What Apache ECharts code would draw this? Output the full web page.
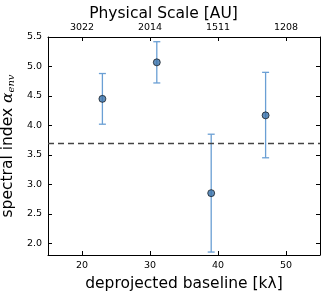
<!DOCTYPE html>
<html><head><meta charset="utf-8">
<script src="https://cdn.jsdelivr.net/npm/echarts@6/dist/echarts.min.js"></script>
<style>html,body{margin:0;padding:0;background:#fff}#c{width:327px;height:297px}</style>
</head><body><div id="c"></div>
<script>
const baselines = [23, 31, 39, 47];
const alphaValues = [4.45, 5.07, 2.85, 4.17];
const errLow = [4.02, 4.72, 1.85, 3.45];
const errHigh = [4.88, 5.42, 3.85, 4.90];
const refLine = 3.7;
const bottomTickValues = [20, 30, 40, 50];
const topTickPositions = [20, 30, 40, 50];
const topTickLabels = ['3022', '2014', '1511', '1208'];
const yTickValues = [2.0, 2.5, 3.0, 3.5, 4.0, 4.5, 5.0, 5.5];

const font = 'DejaVu Sans';
const chart = echarts.init(document.getElementById('c'));
const line = {show: true, lineStyle: {color: '#000', width: 1}};
const tick = vals => ({show: true, inside: true, length: 4, lineStyle: {color: '#000'}, customValues: vals});
chart.setOption({
  animation: false,
  title: {text: 'Physical Scale [AU]', left: 'center', top: 1,
    textStyle: {fontFamily: font, fontSize: 15.5, fontWeight: 'normal', color: '#000'}},
  grid: {left: 48, right: 7, top: 37, bottom: 42, outerBoundsMode: 'none', containLabel: false},
  xAxis: [
    {type: 'value', min: 15, max: 55, position: 'bottom',
      name: 'deprojected baseline [kλ]', nameLocation: 'middle', nameGap: 18,
      nameTextStyle: {fontFamily: font, fontSize: 15.5, color: '#000'},
      axisLine: line, axisTick: tick(bottomTickValues), splitLine: {show: false},
      axisLabel: {fontFamily: font, fontSize: 9.5, color: '#000', margin: 6, customValues: bottomTickValues}
    },
    {type: 'value', min: 15, max: 55, position: 'top',
      axisLine: line, axisTick: tick(topTickPositions), splitLine: {show: false},
      axisLabel: {fontFamily: font, fontSize: 9.5, color: '#000', margin: 4, customValues: topTickPositions,
        formatter: v => { const i = topTickPositions.indexOf(v); return i >= 0 ? topTickLabels[i] : ''; }}
    }
  ],
  yAxis: [
    {type: 'value', min: 1.8, max: 5.5, position: 'left',
      name: '{n|spectral index }{a|α}{s|env}', nameLocation: 'middle', nameGap: 31, nameRotate: 90,
      nameTextStyle: {rich: {
        n: {fontFamily: font, fontSize: 15.5, color: '#000'},
        a: {fontFamily: 'DejaVu Serif', fontStyle: 'italic', fontSize: 15.5, color: '#000'},
        s: {fontFamily: 'DejaVu Serif', fontStyle: 'italic', fontSize: 10, color: '#000', verticalAlign: 'bottom', padding: [7, 0, 0, 0]}
      }},
      axisLine: line, axisTick: tick(yTickValues), splitLine: {show: false},
      axisLabel: {fontFamily: font, fontSize: 9.5, color: '#000', margin: 6, customValues: yTickValues,
        formatter: v => v.toFixed(1)}
    },
    {type: 'value', min: 1.8, max: 5.5, position: 'right',
      axisLine: line, axisTick: tick(yTickValues), splitLine: {show: false},
      axisLabel: {show: false}
    }
  ],
  series: [
    {
      type: 'custom', xAxisIndex: 0, yAxisIndex: 0, z: 2,
      data: baselines.map((x, i) => [x, errLow[i], errHigh[i]]),
      renderItem: (params, api) => {
        const lo = api.coord([api.value(0), api.value(1)]);
        const hi = api.coord([api.value(0), api.value(2)]);
        const w = 3.5;
        const st = {stroke: '#6a9fd4', lineWidth: 1.3};
        return {type: 'group', children: [
          {type: 'line', shape: {x1: hi[0], y1: hi[1], x2: lo[0], y2: lo[1]}, style: st},
          {type: 'line', shape: {x1: hi[0]-w, y1: hi[1], x2: hi[0]+w, y2: hi[1]}, style: st},
          {type: 'line', shape: {x1: lo[0]-w, y1: lo[1], x2: lo[0]+w, y2: lo[1]}, style: st}
        ]};
      }
    },
    {
      type: 'scatter', xAxisIndex: 0, yAxisIndex: 0, z: 3,
      symbol: 'circle', symbolSize: 7,
      itemStyle: {color: '#3a72aa', borderColor: '#000', borderWidth: 0.8},
      data: baselines.map((x, i) => [x, alphaValues[i]]),
      markLine: {silent: true, symbol: 'none', label: {show: false},
        lineStyle: {color: '#444', type: [6, 4], width: 1.3},
        data: [{yAxis: refLine}]}
    }
  ]
});
</script></body></html>
